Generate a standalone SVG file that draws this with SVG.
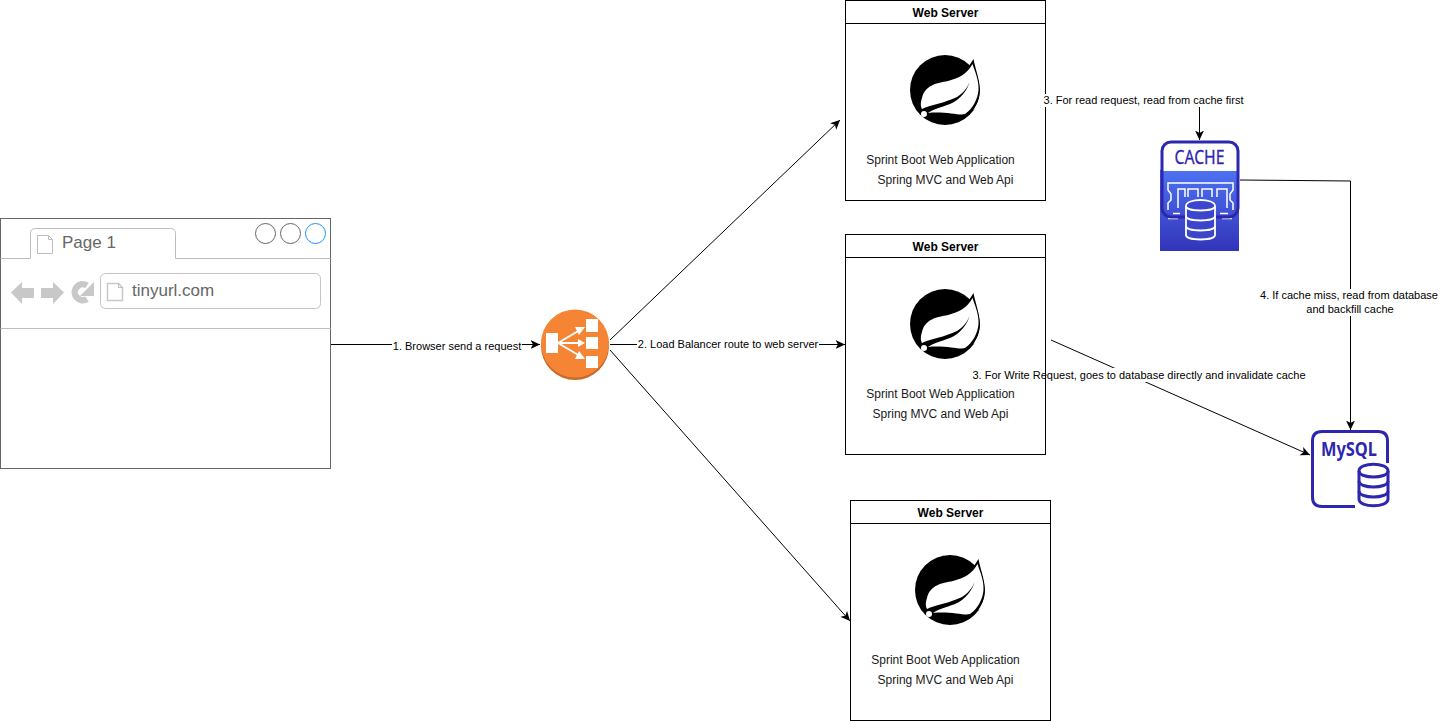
<svg xmlns="http://www.w3.org/2000/svg" width="1442" height="721" viewBox="0 0 1442 721">
<style>
text{font-family:"Liberation Sans",Arial,sans-serif;fill:#000}
.box{fill:#fff;stroke:#000;stroke-width:1}
.hd{font-size:12px;font-weight:bold;text-anchor:middle}
.tx{font-size:12px;text-anchor:middle;fill:#1a1a1a}
.lb{font-size:11px;text-anchor:middle}
.bg{fill:#fff}
.cn{fill:none;stroke:#000;stroke-width:1;marker-end:url(#a)}
.ch{fill:#c8c8c8}
.lt{fill:none;stroke:#bdbdbd;stroke-width:1}
</style>
<defs>
<marker id="a" markerWidth="12" markerHeight="10" refX="9.500" refY="4.500" orient="auto" markerUnits="userSpaceOnUse"><path d="M0 0L9.500 4.500L0 9L2.500 4.500Z" fill="#000"/></marker>
<linearGradient id="g" x1="0" y1="0" x2="0" y2="1"><stop offset="0" stop-color="#4d72f3"/><stop offset="1" stop-color="#3334b9"/></linearGradient>
<g id="leaf">
<circle r="35" fill="#000"/>
<path d="M28.500-31C30-20 35-12 35 0C35 8 32 15 28 20L40 10V-30Z" fill="#fff"/>
<path d="M28.500-31C30.500-20 34.500-12 34.800 0C35 8 32 15 27 21L24 16L24-24Z" fill="#000"/>
<path d="M27.500-26C22-16 14-12 3-9C-8-7-20-5-23 8C-25 14-24 17-23 19C-15 15 0 13 12 7C20 2 24-5 25-10C23 0 15 10 5 14C-5 18-12 19-17 23C0 21 15 26 20 24C28 19 33 8 33.500 0C34-10 30-18 27.500-26Z" fill="#fff"/>
<circle cx="-21" cy="24" r="3" fill="#fff"/>
</g>
</defs>

<g id="connectors">
<path class="cn" d="M330 344.500H540"/>
<path class="cn" d="M610 344.500H845"/>
<path class="cn" d="M610 340L840 120"/>
<path class="cn" d="M610 350L850 621"/>
<path class="cn" d="M1045 100.500H1199.500V140"/>
<path class="cn" d="M1240 180L1350.500 181V430"/>
<path class="cn" d="M1051 340L1310 455"/>
<rect class="bg" x="392" y="339" width="130" height="14"/>
<rect class="bg" x="637" y="337" width="182" height="14"/>
<rect class="bg" x="1043" y="93" width="201" height="14"/>
<rect class="bg" x="1260" y="289" width="178" height="27"/>
<rect class="bg" x="972" y="368" width="334" height="14"/>
</g>

<g id="browser">
<rect x="0.500" y="218.500" width="330" height="250" fill="#fff" stroke="#666"/>
<path class="lt" d="M0.500 258.500H30.500V233.500Q30.500 228.500 35.500 228.500H170.500Q175.500 228.500 175.500 233.500V258.500H330.500"/>
<path class="lt" d="M0.500 328.500H330.500"/>
<circle cx="265.500" cy="233.500" r="10" fill="none" stroke="#666"/>
<circle cx="290.500" cy="233.500" r="10" fill="none" stroke="#666"/>
<circle cx="315.500" cy="233.500" r="10" fill="none" stroke="#1e90ff"/>
<path class="lt" d="M37.500 235.500H48.500L52.500 239.500V253.500H37.500Z"/>
<path class="lt" d="M48.500 235.500V239.500H52.500"/>
<text x="62" y="248" font-size="17px" style="fill:#666">Page 1</text>
<path class="ch" d="M11 292.500L22 282V288H34V298H22V304Z"/>
<path class="ch" d="M64 292.500L53 282V288H41V298H53V304Z"/>
<path d="M87 285.500A8 8 0 1 0 87 299" fill="none" stroke="#c8c8c8" stroke-width="6.500"/>
<path class="ch" d="M94 282V296H80Z"/>
<rect x="100.500" y="273.500" width="220" height="35" rx="5" fill="#fff" stroke="#c4c4c4"/>
<path d="M107.500 283.500H118.500L122.500 287.500V300.500H107.500Z" fill="none" stroke="#c8c8c8" stroke-width="1.500"/>
<path class="lt" d="M118.500 283.500V287.500H122.500"/>
<text x="132" y="296" font-size="17px" style="fill:#666">tinyurl.com</text>
</g>

<g id="load-balancer">
<circle cx="575" cy="346" r="34" fill="#c9692a"/>
<circle cx="575" cy="343.500" r="34" fill="#f58535"/>
<rect x="546" y="333" width="12" height="20" fill="#fff"/>
<rect x="586" y="319" width="12" height="13" fill="#fff"/>
<rect x="586" y="337" width="12" height="12" fill="#fff"/>
<rect x="586" y="356" width="12" height="12" fill="#fff"/>
<path d="M558 343L580 330M558 343H580M558 343L580 356" fill="none" stroke="#fff" stroke-width="2"/>
<path d="M585 327L575 327L579 335ZM585 343L578 339V347ZM585 359L579 351L575 359Z" fill="#fff"/>
</g>

<g id="web-server-1">
<rect class="box" x="845.500" y="0.500" width="200" height="200"/>
<path class="box" d="M845.500 23.500H1045.500"/>
<text class="hd" x="945.500" y="17">Web Server</text>
<use href="#leaf" x="945" y="90"/>
<text class="tx" x="940.500" y="164">Sprint Boot Web Application</text>
<text class="tx" x="945.500" y="184">Spring MVC and Web Api</text>
</g>
<g id="web-server-2">
<rect class="box" x="845.500" y="234.500" width="200" height="220"/>
<path class="box" d="M845.500 257.500H1045.500"/>
<text class="hd" x="945.500" y="251">Web Server</text>
<use href="#leaf" x="945" y="324"/>
<text class="tx" x="940.500" y="398">Sprint Boot Web Application</text>
<text class="tx" x="940.500" y="418">Spring MVC and Web Api</text>
</g>
<g id="web-server-3">
<rect class="box" x="850.500" y="500.500" width="200" height="220"/>
<path class="box" d="M850.500 523.500H1050.500"/>
<text class="hd" x="950.500" y="517">Web Server</text>
<use href="#leaf" x="950" y="590"/>
<text class="tx" x="945.500" y="664">Sprint Boot Web Application</text>
<text class="tx" x="945.500" y="684">Spring MVC and Web Api</text>
</g>

<g id="cache">
<rect x="1160" y="170" width="79" height="81" fill="url(#g)"/>
<rect x="1162" y="142" width="76" height="29" fill="#fff"/>
<path d="M1168 210V203L1171 200V194L1168 190V183H1233V190L1230 194V200L1233 203V210M1178 208V189H1185V197M1188 197V189H1198V197M1202 197V189H1212V197M1217 197V189H1227V208M1173 213.500H1180M1220 213.500H1228M1168 218.500H1178M1222 218.500H1232" fill="none" stroke="#fff" stroke-width="1.500"/>
<rect x="1162" y="142" width="76" height="75" rx="9" fill="none" stroke="#2e27ad" stroke-width="3"/>
<text x="1199.500" y="164" font-size="19px" stroke="#2e27ad" stroke-width="0.300" style="fill:#2e27ad;text-anchor:middle;font-family:'Noto Sans',sans-serif" textLength="50" lengthAdjust="spacingAndGlyphs">CACHE</text>
<path d="M1186 206V235C1186 241 1215 241 1215 235V206C1215 198 1186 198 1186 206Z" fill="#3b46cc" stroke="#fff" stroke-width="1.800"/>
<path d="M1186 206C1186 212 1215 212 1215 206M1186 216C1186 222 1215 222 1215 216M1186 226C1186 232 1215 232 1215 226" fill="none" stroke="#fff" stroke-width="1.800"/>
</g>

<g id="mysql">
<path d="M1355 506.500H1322Q1312.500 506.500 1312.500 497V441Q1312.500 431.500 1322 431.500H1378Q1387.500 431.500 1387.500 441V463" fill="none" stroke="#2e27ad" stroke-width="3"/>
<text x="1349" y="456" font-size="19px" font-weight="bold" style="fill:#2e27ad;text-anchor:middle;font-family:'Noto Sans',sans-serif" textLength="56" lengthAdjust="spacingAndGlyphs">MySQL</text>
<path d="M1359 471V499C1359 508 1388 508 1388 499V471C1388 462 1359 462 1359 471Z" fill="#fff" stroke="#2e27ad" stroke-width="3"/>
<path d="M1359 471C1359 479 1388 479 1388 471M1359 481C1359 489 1388 489 1388 481M1359 491C1359 499 1388 499 1388 491" fill="none" stroke="#2e27ad" stroke-width="3"/>
</g>

<g id="connector-labels">
<rect class="bg" x="1043" y="94" width="6" height="13"/>
<text class="lb" x="457" y="350">1. Browser send a request</text>
<text class="lb" x="728" y="348">2. Load Balancer route to web server</text>
<text class="lb" x="1143.500" y="104">3. For read request, read from cache first</text>
<text class="lb" x="1349" y="299">4. If cache miss, read from database</text>
<text class="lb" x="1350" y="313">and backfill cache</text>
<text class="lb" x="1139" y="379">3. For Write Request, goes to database directly and invalidate cache</text>
</g>
</svg>
